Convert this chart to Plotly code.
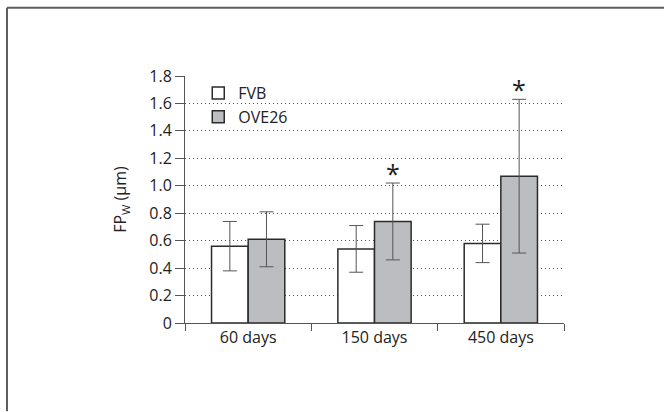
import plotly.graph_objects as go

categories = ["60 days", "150 days", "450 days"]
fvb_values = [0.56, 0.54, 0.58]
fvb_errors = [0.18, 0.17, 0.14]
ove_values = [0.61, 0.74, 1.07]
ove_errors = [0.20, 0.28, 0.56]
significant = [False, True, True]
y_ticks = [0, 0.2, 0.4, 0.6, 0.8, 1.0, 1.2, 1.4, 1.6, 1.8]
y_tick_labels = ["0", "0.2", "0.4", "0.6", "0.8", "1.0", "1.2", "1.4", "1.6", "1.8"]

FONT = "Open Sans, Lato, DejaVu Sans, sans-serif"
W, H = 664, 412
L, R, T, B = 185, 100, 76, 88.5
pw, ph = W - L - R, H - T - B

fig = go.Figure()
fig.add_trace(go.Bar(
    name="FVB", x=categories, y=fvb_values,
    marker=dict(color="white", line=dict(color="#2b2b2b", width=1.5)),
    error_y=dict(type="data", array=fvb_errors, color="#555555", thickness=1, width=7),
))
fig.add_trace(go.Bar(
    name="OVE26", x=categories, y=ove_values,
    marker=dict(color="#bcbdc0", line=dict(color="#2b2b2b", width=1.5)),
    error_y=dict(type="data", array=ove_errors, color="#555555", thickness=1, width=7),
))

for cat, v, e, s in zip(categories, ove_values, ove_errors, significant):
    if s:
        fig.add_annotation(x=cat, y=v + e, text="*", showarrow=False,
                           xshift=18, yshift=-9, yanchor="bottom",
                           font=dict(size=25, family=FONT, color="#1e1e1e"))

# outer frame lines (top and left)
x_left = (7 - L) / pw
x_right = (W - L) / pw
y_top = (H - B - 7.5) / ph
y_bot = -B / ph
fig.add_shape(type="line", xref="paper", yref="paper", x0=x_left, x1=x_right,
              y0=y_top, y1=y_top, line=dict(color="#5e5e5e", width=2))
fig.add_shape(type="line", xref="paper", yref="paper", x0=x_left, x1=x_left,
              y0=y_bot, y1=y_top, line=dict(color="#5e5e5e", width=2))

fig.update_layout(
    width=W, height=H,
    margin=dict(l=L, r=R, t=T, b=B),
    paper_bgcolor="white", plot_bgcolor="white",
    font=dict(family=FONT, size=16, color="#222222"),
    barmode="group", bargap=0.42, bargroupgap=0,
    showlegend=True,
    legend=dict(x=0.035, y=1.0, xanchor="left", yanchor="top",
                bgcolor="rgba(0,0,0,0)", font=dict(size=16, family=FONT),
                itemwidth=30, tracegroupgap=0),
    xaxis=dict(
        type="category", tickson="boundaries", ticks="outside", ticklen=7,
        tickcolor="#555555", tickwidth=1, showline=True, linecolor="#555555",
        linewidth=1, showgrid=False, tickfont=dict(size=16, family=FONT),
    ),
    yaxis=dict(
        range=[0, 1.8], tickvals=y_ticks, ticktext=y_tick_labels,
        ticks="outside", ticklen=9, tickcolor="#555555", tickwidth=1,
        showline=True, linecolor="#555555", linewidth=1,
        showgrid=True, gridcolor="#555555", griddash="1px,3px", gridwidth=1,
        zeroline=False, tickfont=dict(size=16, family=FONT),
        title=dict(text="FP<sub>W</sub> (µm)", font=dict(size=16, family=FONT), standoff=18),
    ),
)

fig.write_html("out.html", config={"displayModeBar": False},
               post_script="document.body.style.margin='0';document.body.style.overflow='hidden';")
